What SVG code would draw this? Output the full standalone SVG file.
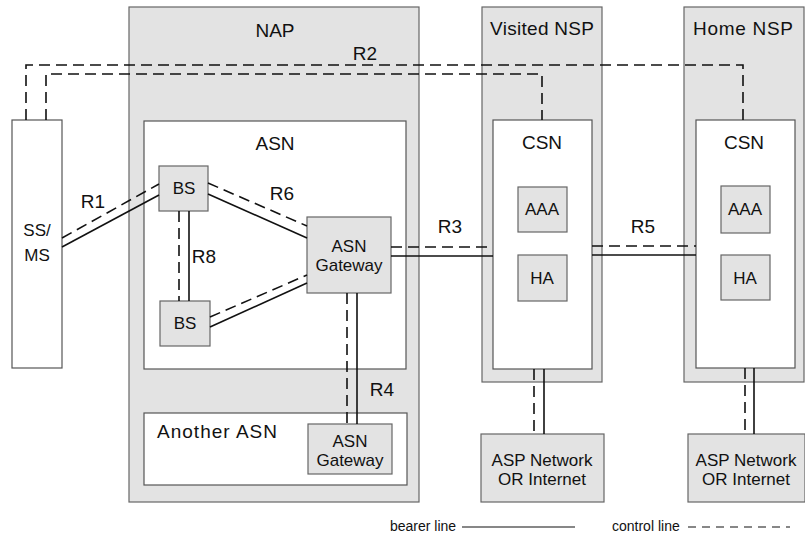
<svg xmlns="http://www.w3.org/2000/svg" width="805" height="548" viewBox="0 0 805 548">
<defs>
<style>
.sh{fill:#e3e3e3;stroke:#666;stroke-width:1.2}
.wh{fill:#fff;stroke:#555;stroke-width:1.2}
.t{font-family:"Liberation Sans",Arial,sans-serif;font-size:19px;fill:#111;text-anchor:middle}
.s{font-family:"Liberation Sans",Arial,sans-serif;font-size:17px;fill:#111;text-anchor:middle}
.lg{font-family:"Liberation Sans",Arial,sans-serif;font-size:14px;fill:#111}
.b{fill:none;stroke:#111;stroke-width:1.6}
.c{fill:none;stroke:#111;stroke-width:1.6;stroke-dasharray:11,6}
</style>
</defs>
<rect width="805" height="548" fill="#fff"/>
<g id="nap"><rect class="sh" x="129" y="7" width="290" height="495"/><text class="t" x="275" y="37">NAP</text></g>
<g id="asn"><rect class="wh" x="144" y="121" width="262" height="248"/><text class="t" x="275" y="150">ASN</text></g>
<g id="another-asn"><rect class="wh" x="144" y="413" width="263" height="72"/><text class="t" x="157" y="438" style="text-anchor:start" textLength="120">Another ASN</text></g>
<g id="ssms"><rect class="wh" x="12" y="120" width="50" height="248"/><text class="s" x="37" y="236">SS/</text><text class="s" x="37" y="261">MS</text></g>
<g id="bs1"><rect class="sh" x="159" y="166" width="49" height="45"/><text class="s" x="184" y="194">BS</text></g>
<g id="bs2"><rect class="sh" x="160" y="301" width="50" height="45"/><text class="s" x="185" y="329">BS</text></g>
<g id="asngw"><rect class="sh" x="307" y="217" width="84" height="76"/><text class="s" x="349" y="252">ASN</text><text class="s" x="349" y="271">Gateway</text></g>
<g id="asngw2"><rect class="sh" x="308" y="424" width="84" height="50"/><text class="s" x="350" y="447">ASN</text><text class="s" x="350" y="466">Gateway</text></g>
<g id="vnsp"><rect class="sh" x="482" y="7" width="120" height="375"/><text class="t" x="542" y="35" textLength="104">Visited NSP</text></g>
<g id="vcsn"><rect class="wh" x="493" y="120" width="99" height="249"/><text class="t" x="542" y="149">CSN</text></g>
<g id="vaaa"><rect class="sh" x="518" y="187" width="49" height="45"/><text class="s" x="542" y="215">AAA</text></g>
<g id="vha"><rect class="sh" x="518" y="255" width="49" height="46"/><text class="s" x="542" y="284">HA</text></g>
<g id="hnsp"><rect class="sh" x="684" y="7" width="120" height="375"/><text class="t" x="743" y="35" textLength="100">Home NSP</text></g>
<g id="hcsn"><rect class="wh" x="696" y="120" width="99" height="248"/><text class="t" x="744" y="149">CSN</text></g>
<g id="haaa"><rect class="sh" x="721" y="186" width="49" height="47"/><text class="s" x="745" y="215">AAA</text></g>
<g id="hha"><rect class="sh" x="721" y="255" width="49" height="45"/><text class="s" x="745" y="284">HA</text></g>
<g id="vasp"><rect class="sh" x="481" y="434" width="123" height="68"/><text class="s" x="542" y="466">ASP Network</text><text class="s" x="542" y="485">OR Internet</text></g>
<g id="hasp"><rect class="sh" x="688" y="434" width="117" height="68"/><text class="s" x="746" y="466">ASP Network</text><text class="s" x="746" y="485">OR Internet</text></g>
<g id="connectors">
<path class="c" d="M26,120 V65 H743 V120"/>
<path class="c" d="M46,120 V74 H542 V120"/>
<line class="b" x1="62" y1="247" x2="159" y2="195"/>
<line class="c" x1="62" y1="238" x2="159" y2="184"/>
<line class="b" x1="208" y1="194" x2="307" y2="238"/>
<line class="c" x1="208" y1="183" x2="307" y2="226"/>
<line class="c" x1="179" y1="211" x2="179" y2="301"/>
<line class="b" x1="189" y1="211" x2="189" y2="301"/>
<line class="c" x1="210" y1="317" x2="307" y2="275"/>
<line class="b" x1="210" y1="327" x2="307" y2="283"/>
<line class="c" x1="347" y1="293" x2="347" y2="424"/>
<line class="b" x1="357" y1="293" x2="357" y2="424"/>
<line class="c" x1="391" y1="247" x2="493" y2="247"/>
<line class="b" x1="391" y1="256" x2="493" y2="256"/>
<line class="c" x1="592" y1="246" x2="696" y2="246"/>
<line class="b" x1="592" y1="255" x2="696" y2="255"/>
<line class="c" x1="534" y1="369" x2="534" y2="434"/>
<line class="b" x1="544" y1="369" x2="544" y2="434"/>
<line class="c" x1="745" y1="368" x2="745" y2="434"/>
<line class="b" x1="754" y1="368" x2="754" y2="434"/>
</g>
<g id="labels">
<text class="t" x="365" y="60">R2</text>
<text class="t" x="93" y="208">R1</text>
<text class="t" x="282" y="200">R6</text>
<text class="t" x="204" y="263">R8</text>
<text class="t" x="450" y="233">R3</text>
<text class="t" x="643" y="233">R5</text>
<text class="t" x="382" y="396">R4</text>
</g>
<g id="legend">
<text class="lg" x="390" y="531">bearer line</text>
<line class="b" x1="462" y1="527" x2="575" y2="527" style="stroke-width:1.2"/>
<text class="lg" x="612" y="531">control line</text>
<line class="c" x1="688" y1="527" x2="790" y2="527" style="stroke-width:1.2;stroke-dasharray:8,6"/>
</g>
</svg>
